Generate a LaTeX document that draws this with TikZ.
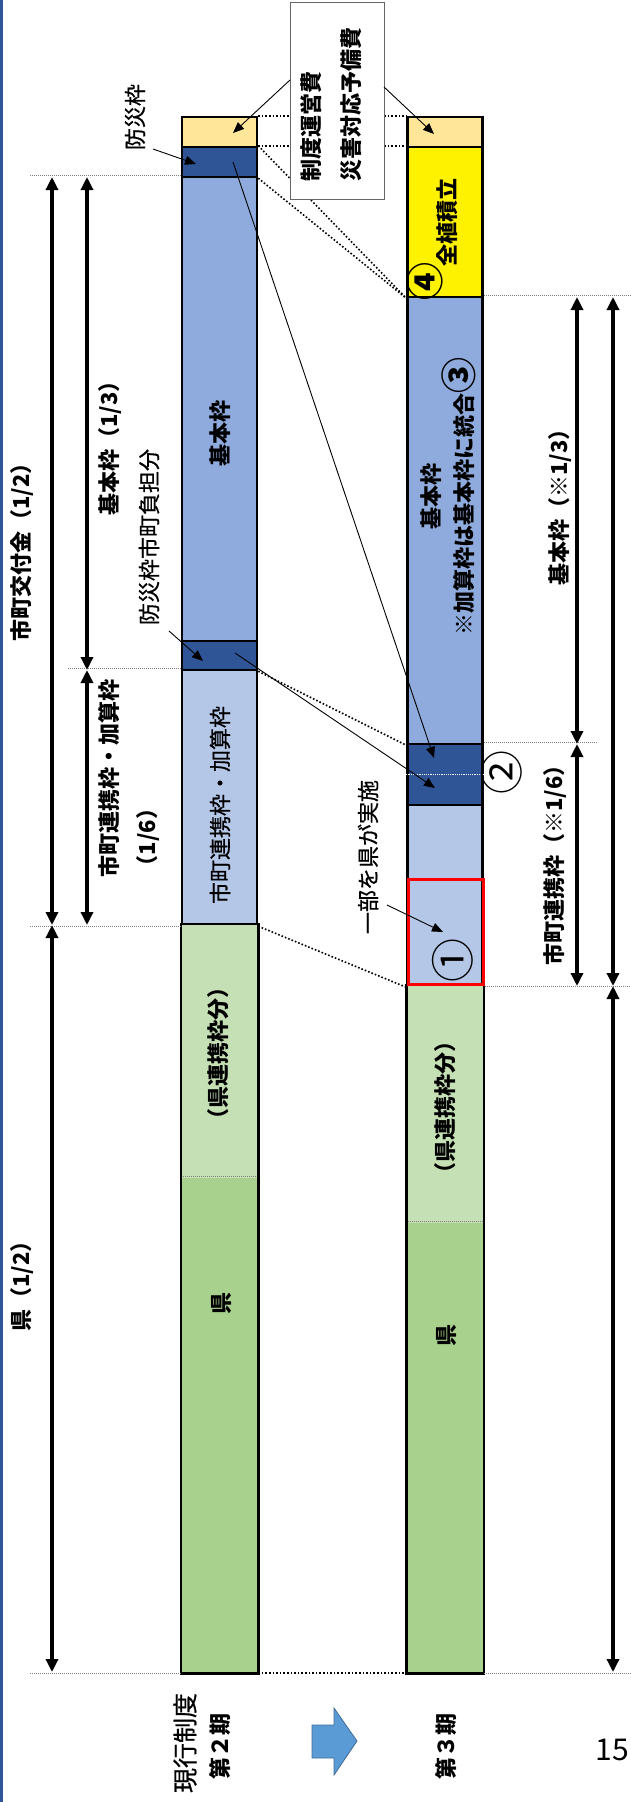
\documentclass[tikz,border=0pt]{standalone}
\usepackage{fontspec}
\setmainfont{Noto Sans CJK JP}
\newfontfamily\medfont{Noto Sans CJK JP}[FakeBold=0.6]
\usetikzlibrary{arrows.meta}

\definecolor{tanfill}{HTML}{FFE699}
\definecolor{darkfill}{HTML}{2F5597}
\definecolor{basicfill}{HTML}{8FAADC}
\definecolor{renkeifill}{HTML}{B4C7E7}
\definecolor{kenfillA}{HTML}{C5E0B4}
\definecolor{kenfillB}{HTML}{A9D18E}
\definecolor{arrowblue}{HTML}{5B9BD5}
\definecolor{edgeblue}{HTML}{2F5597}

\begin{document}
\begin{tikzpicture}[x=1pt,y=-1pt,
  every node/.style={font=\fontsize{22}{38}\selectfont, inner sep=0pt},
  seg/.style={draw=black, line width=2.5pt, minimum width=75pt},
  vtext/.style={rotate=90, align=left, font=\fontsize{22}{38}\selectfont\medfont},
  vbold/.style={rotate=90, align=left, font=\fontsize{22}{38}\selectfont\bfseries},
  guide/.style={gray, line width=1pt, densely dotted},
  conn/.style={black, line width=1.6pt, dotted},
  pointer/.style={line width=0.9pt, arrows={-Triangle[length=11pt,width=9pt]}},
  dim/.style={line width=3.5pt, arrows={Triangle[length=13pt,width=12pt]-Triangle[length=13pt,width=12pt]}}]

\useasboundingbox (0,0) rectangle (631,1802);
\fill[edgeblue] (0,0) rectangle (3,1802);

% current scheme
\node[seg, fill=tanfill, minimum height=30pt] (Ltan) at (219.5,132) {};
\node[seg, fill=darkfill, minimum height=30pt] (Ldark1) at (219.5,162) {};
\node[seg, fill=basicfill, minimum height=464pt] (Lbasic) at (219.5,409) {};
\node[seg, fill=darkfill, minimum height=29pt] (Ldark2) at (219.5,655.5) {};
\node[seg, fill=renkeifill, minimum height=255pt] (Lrenkei) at (219.5,797.5) {};
\node[seg, fill=kenfillA, draw=none, minimum height=253pt] (Lken1) at (219.5,1051.5) {};
\node[seg, fill=kenfillB, draw=none, minimum height=494pt] (Lken2) at (219.5,1425) {};
\draw[guide] (Lken2.north west) -- (Lken2.north east);
\draw[line width=2.5pt] (Lken1.north west) rectangle (Lken2.south east);

% third period
\node[seg, fill=tanfill, minimum height=30pt] (Rtan) at (445,132) {};
\node[seg, fill=yellow, minimum height=150pt] (Ryellow) at (445,222) {};
\node[seg, fill=basicfill, minimum height=447pt] (Rbasic) at (445,520.5) {};
\node[seg, fill=darkfill, minimum height=61pt] (Rdark) at (445,774.5) {};
\node[seg, fill=renkeifill, minimum height=181pt] (Rrenkei) at (445,895.5) {};
\node[seg, fill=kenfillA, draw=none, minimum height=237pt] (Rken1) at (445,1104.5) {};
\node[seg, fill=kenfillB, draw=none, minimum height=449pt] (Rken2) at (445,1447.5) {};
\draw[guide] (Rken2.north west) -- (Rken2.north east);
\draw[line width=2.5pt] (Rken1.north west) rectangle (Rken2.south east);
\draw[white, densely dotted, line width=1.2pt] (Rdark.west) -- (Rdark.east);
\node[draw=red, line width=3pt, minimum width=75pt, minimum height=105pt] (redbox) at (446,932) {};

% dotted links
\draw[conn] (Ltan.north east) -- (Rtan.north west);
\draw[conn] (Ldark1.north east) -- (Ryellow.north west);
\draw[conn] (Ldark1.north east) -- (Ryellow.south west);
\draw[conn] (Ldark1.south east) -- (Ryellow.south west);
\draw[conn] (Ldark2.south east) -- (Rbasic.south west);
\draw[conn] (Lrenkei.south east) -- (Rrenkei.south west);
\draw[conn] (Lken2.south east) -- (Rken2.south west);

% guides
\draw[guide] (Lbasic.north west) -- ++(-152,0);
\draw[guide] (Lrenkei.north west) -- ++(-114,0);
\draw[guide] (Lrenkei.south west) -- ++(-152,0);
\draw[guide] (Lken2.south west) -- ++(-152,0);
\draw[guide] (Rbasic.north east) -- ++(148,0);
\draw[guide] (Rdark.north east) -- ++(114,0);
\draw[guide] (redbox.south east) -- ++(146,0);
\draw[guide] (Rken2.south east) -- ++(148,0);

% callout
\node[draw=gray!80!black, fill=white, line width=1pt, minimum width=94pt, minimum height=197pt] (note) at (337,100.5) {};
\node[vbold, anchor=west] (note1) at (311,182) {制度運営費};
\node[vbold, anchor=west] (note2) at (351,182) {災害対応予備費};

\node[vtext] (bousai) at (135,117) {防災枠};
\node[vtext] (futan) at (149,537) {防災枠市町負担分};
\node[vbold] (Lbasictxt) at (220,433) {基本枠};
\node[vtext] (Lrenkeitxt) at (220,805) {市町連携枠・加算枠};
\node[vbold] (Lken1txt) at (218,1053) {（県連携枠分）};
\node[vbold] (Lken2txt) at (222,1303) {県};

\node[vbold] (zengaku) at (447,222) {全植積立};
\node[font=\fontsize{38}{38}\selectfont\bfseries, rotate=90] (n4) at (425,281) {④};
\node[vbold, align=center, font=\fontsize{22}{33}\selectfont\bfseries] (Rbasictxt) at (448,496)
  {基本枠\\※加算枠は基本枠に統合{\fontsize{36}{33}\selectfont ③}};
\node[font=\fontsize{44}{44}\selectfont, rotate=90] (n2) at (502,772) {②};
\node[font=\fontsize{44}{44}\selectfont, rotate=90] (n1) at (453,960) {①};
\node[vtext] (ichibu) at (368,857) {一部を県が実施};
\node[vbold] (Rken1txt) at (445,1107) {（県連携枠分）};
\node[vbold] (Rken2txt) at (447,1335) {県};

% side labels
\node[vbold] (kofu) at (22,547) {市町交付金（1/2）};
\node[vbold] (ken) at (22,1281) {県（1/2）};
\node[vbold] (kihon) at (110,443) {基本枠（1/3）};
\node[vbold] (renkei) at (129,778) {市町連携枠・加算枠\\（1/6）};
\node[vbold] (Rkihon) at (560,502) {基本枠（※1/3）};
\node[vbold] (Rrenkeilab) at (555,860) {市町連携枠（※1/6）};

\node[vtext, font=\fontsize{25}{30}\selectfont\medfont] (genko) at (185,1743) {現行制度};
\node[vbold] (dai2) at (220,1746) {第２期};
\node[vbold] (dai3) at (446,1746) {第３期};
\node[font=\fontsize{30}{30}\selectfont] (page) at (612,1750) {15};

\draw[fill=arrowblue, draw=arrowblue!70!black, line width=0.8pt]
  (312,1725) -- (334,1725) -- (334,1708) -- (357,1741) -- (334,1775) -- (334,1758) -- (312,1758) -- cycle;

% pointer ends
\coordinate (p1) at (290,80);
\coordinate (p2) at (233,133);
\coordinate (p3) at (384,87);
\coordinate (p4) at (434,134);
\coordinate (p5) at (153,149);
\coordinate (p6) at (196,164);
\coordinate (p7) at (233,162);
\coordinate (p8) at (434,758);
\coordinate (p9) at (169,631);
\coordinate (p10) at (203,661);
\coordinate (p11) at (235,653);
\coordinate (p12) at (435,788);
\coordinate (p13) at (387,905);
\coordinate (p14) at (443,932);

\draw[pointer] (p1) -- (p2);
\draw[pointer] (p3) -- (p4);
\draw[pointer] (p5) -- (p6);
\draw[pointer] (p7) -- (p8);
\draw[pointer] (p9) -- (p10);
\draw[pointer] (p11) -- (p12);
\draw[pointer] (p13) -- (p14);

% dimension ends
\coordinate (a1) at (52,177);
\coordinate (a2) at (52,925);
\coordinate (a3) at (52,1672);
\coordinate (b1) at (87,177);
\coordinate (b2) at (87,670);
\coordinate (b3) at (87,925);
\coordinate (c1) at (577,297);
\coordinate (c2) at (577,744);
\coordinate (c3) at (577,986);
\coordinate (e1) at (613,297);
\coordinate (e2) at (613,986);
\coordinate (e3) at (613,1672);

\draw[dim] (a1) -- (a2);
\draw[dim] (a2) -- (a3);
\draw[dim] (b1) -- (b2);
\draw[dim] (b2) -- (b3);
\draw[dim] (c1) -- (c2);
\draw[dim] (c2) -- (c3);
\draw[dim] (e1) -- (e2);
\draw[dim] (e2) -- (e3);

\end{tikzpicture}
\end{document}
